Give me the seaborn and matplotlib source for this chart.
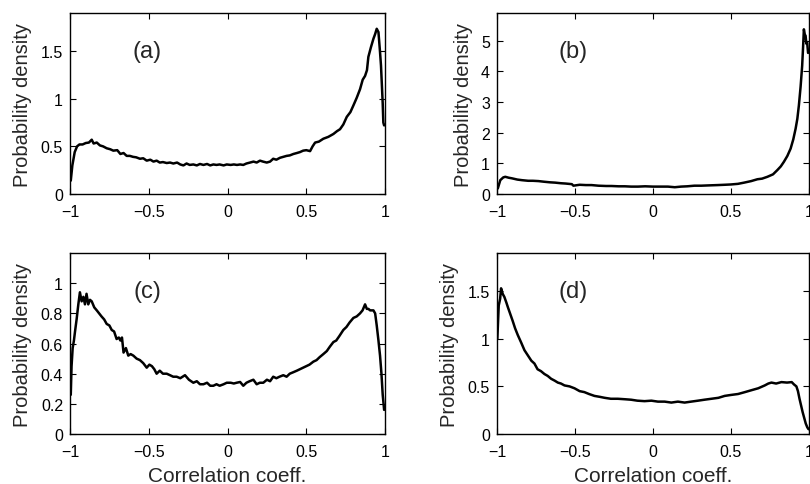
import matplotlib
matplotlib.use("Agg")
import matplotlib.pyplot as plt
import seaborn as sns

# panel (a)
xa = [-0.995, -0.985, -0.97, -0.955, -0.94, -0.92, -0.9, -0.88, -0.862, -0.85,
      -0.83, -0.81, -0.79, -0.767, -0.745, -0.725, -0.70, -0.68, -0.66, -0.64,
      -0.62, -0.60, -0.58, -0.556, -0.535, -0.513, -0.49, -0.47, -0.45, -0.43,
      -0.41, -0.386, -0.365, -0.344, -0.32, -0.30, -0.28, -0.26, -0.24, -0.217,
      -0.195, -0.175, -0.153, -0.13, -0.11, -0.09, -0.07, -0.05, -0.025, -0.005,
      0.02, 0.04, 0.06, 0.08, 0.10, 0.12, 0.143, 0.165, 0.185, 0.206,
      0.225, 0.249, 0.27, 0.29, 0.31, 0.333, 0.354, 0.375, 0.395, 0.418,
      0.44, 0.46, 0.48, 0.50, 0.524, 0.54, 0.556, 0.58, 0.608, 0.64,
      0.672, 0.695, 0.714, 0.735, 0.757, 0.78, 0.799, 0.82, 0.841, 0.858,
      0.873, 0.885, 0.894, 0.91, 0.926, 0.937, 0.947, 0.958, 0.968, 0.974,
      0.979, 0.985, 0.989, 0.994]
ya = [0.14, 0.30, 0.44, 0.50, 0.52, 0.52, 0.535, 0.54, 0.57, 0.53,
      0.54, 0.51, 0.50, 0.48, 0.47, 0.455, 0.46, 0.42, 0.43, 0.40,
      0.40, 0.39, 0.385, 0.37, 0.375, 0.35, 0.36, 0.34, 0.35, 0.33,
      0.335, 0.325, 0.33, 0.32, 0.33, 0.31, 0.30, 0.32, 0.305, 0.31,
      0.30, 0.315, 0.305, 0.315, 0.30, 0.31, 0.305, 0.31, 0.30, 0.31,
      0.305, 0.31, 0.305, 0.31, 0.305, 0.32, 0.33, 0.34, 0.33, 0.35,
      0.34, 0.33, 0.34, 0.37, 0.36, 0.38, 0.39, 0.40, 0.405, 0.42,
      0.43, 0.44, 0.455, 0.46, 0.45, 0.50, 0.54, 0.55, 0.58, 0.60,
      0.63, 0.66, 0.68, 0.73, 0.81, 0.86, 0.93, 1.01, 1.10, 1.20,
      1.24, 1.30, 1.44, 1.54, 1.63, 1.68, 1.735, 1.70, 1.49, 1.35,
      1.17, 0.95, 0.75, 0.72]

# panel (b)
xb = [-0.995, -0.979, -0.96, -0.947, -0.925, -0.904, -0.87, -0.84, -0.80, -0.77,
      -0.734, -0.70, -0.66, -0.628, -0.59, -0.56, -0.52, -0.51, -0.47, -0.43,
      -0.394, -0.35, -0.30, -0.266, -0.22, -0.18, -0.14, -0.096, -0.05, 0.0,
      0.05, 0.096, 0.14, 0.18, 0.22, 0.266, 0.31, 0.36, 0.415, 0.46,
      0.50, 0.545, 0.585, 0.63, 0.67, 0.70, 0.734, 0.77, 0.798, 0.82,
      0.84, 0.862, 0.883, 0.90, 0.915, 0.926, 0.936, 0.947, 0.957, 0.963,
      0.968, 0.974, 0.979, 0.984, 0.989, 0.995]
yb = [0.18, 0.45, 0.54, 0.56, 0.53, 0.51, 0.47, 0.45, 0.43, 0.43,
      0.42, 0.40, 0.38, 0.37, 0.35, 0.34, 0.32, 0.27, 0.30, 0.29,
      0.29, 0.27, 0.26, 0.26, 0.25, 0.25, 0.24, 0.24, 0.25, 0.24,
      0.24, 0.24, 0.22, 0.24, 0.25, 0.27, 0.27, 0.28, 0.29, 0.30,
      0.31, 0.33, 0.37, 0.42, 0.48, 0.50, 0.56, 0.64, 0.78, 0.90,
      1.05, 1.24, 1.48, 1.78, 2.13, 2.45, 2.89, 3.5, 4.18, 4.8,
      5.37, 5.2, 5.16, 4.9, 4.94, 4.6]

# panel (c)
xc = [-0.995, -0.99, -0.983, -0.975, -0.968, -0.958, -0.947, -0.937, -0.926, -0.915,
      -0.905, -0.895, -0.884, -0.873, -0.862, -0.846, -0.83, -0.815, -0.80, -0.783,
      -0.767, -0.75, -0.735, -0.72, -0.704, -0.69, -0.68, -0.67, -0.66, -0.645,
      -0.63, -0.615, -0.598, -0.577, -0.556, -0.535, -0.513, -0.496, -0.48, -0.465,
      -0.45, -0.43, -0.41, -0.386, -0.365, -0.345, -0.323, -0.30, -0.27, -0.245,
      -0.217, -0.195, -0.175, -0.153, -0.13, -0.11, -0.09, -0.07, -0.05, -0.025,
      -0.005, 0.02, 0.04, 0.058, 0.08, 0.10, 0.12, 0.14, 0.164, 0.185,
      0.205, 0.227, 0.25, 0.27, 0.29, 0.31, 0.33, 0.354, 0.375, 0.395,
      0.418, 0.44, 0.46, 0.48, 0.50, 0.52, 0.545, 0.565, 0.585, 0.608,
      0.63, 0.65, 0.672, 0.69, 0.71, 0.735, 0.755, 0.775, 0.799, 0.82,
      0.841, 0.857, 0.873, 0.884, 0.894, 0.905, 0.915, 0.926, 0.937, 0.947,
      0.958, 0.968, 0.977, 0.985, 0.994]
yc = [0.26, 0.45, 0.57, 0.62, 0.68, 0.76, 0.86, 0.94, 0.88, 0.91,
      0.86, 0.93, 0.86, 0.89, 0.88, 0.84, 0.82, 0.80, 0.78, 0.76,
      0.73, 0.72, 0.69, 0.68, 0.63, 0.64, 0.62, 0.64, 0.54, 0.57,
      0.52, 0.53, 0.52, 0.50, 0.49, 0.47, 0.44, 0.46, 0.45, 0.43,
      0.40, 0.42, 0.40, 0.40, 0.39, 0.38, 0.38, 0.37, 0.39, 0.36,
      0.34, 0.35, 0.33, 0.33, 0.34, 0.32, 0.32, 0.33, 0.32, 0.33,
      0.34, 0.34, 0.335, 0.34, 0.345, 0.32, 0.34, 0.35, 0.36, 0.33,
      0.34, 0.34, 0.36, 0.35, 0.38, 0.37, 0.38, 0.39, 0.38, 0.40,
      0.41, 0.42, 0.43, 0.44, 0.45, 0.46, 0.48, 0.49, 0.51, 0.53,
      0.55, 0.58, 0.61, 0.62, 0.65, 0.69, 0.71, 0.74, 0.77, 0.78,
      0.80, 0.82, 0.86, 0.83, 0.83, 0.82, 0.82, 0.82, 0.80, 0.72,
      0.62, 0.52, 0.40, 0.26, 0.16]

# panel (d)
xd = [-0.998, -0.989, -0.98, -0.974, -0.963, -0.953, -0.94, -0.93, -0.915, -0.90,
      -0.884, -0.867, -0.845, -0.824, -0.80, -0.78, -0.76, -0.74, -0.718, -0.696,
      -0.675, -0.653, -0.63, -0.61, -0.59, -0.567, -0.535, -0.503, -0.47, -0.44,
      -0.41, -0.375, -0.34, -0.31, -0.27, -0.225, -0.18, -0.14, -0.10, -0.054,
      -0.01, 0.032, 0.075, 0.118, 0.16, 0.203, 0.245, 0.289, 0.33, 0.375,
      0.42, 0.46, 0.50, 0.546, 0.59, 0.632, 0.675, 0.717, 0.74, 0.76,
      0.79, 0.824, 0.86, 0.89, 0.905, 0.92, 0.93, 0.94, 0.95, 0.96,
      0.97, 0.98, 0.99, 0.998]
yd = [1.00, 1.35, 1.42, 1.53, 1.47, 1.44, 1.38, 1.33, 1.26, 1.19,
      1.11, 1.04, 0.96, 0.88, 0.82, 0.77, 0.74, 0.68, 0.66, 0.63,
      0.61, 0.58, 0.56, 0.54, 0.53, 0.51, 0.50, 0.48, 0.45, 0.44,
      0.42, 0.40, 0.39, 0.38, 0.37, 0.37, 0.365, 0.36, 0.35, 0.345,
      0.35, 0.34, 0.34, 0.33, 0.34, 0.33, 0.34, 0.35, 0.36, 0.37,
      0.38, 0.40, 0.41, 0.42, 0.44, 0.46, 0.48, 0.51, 0.53, 0.54,
      0.53, 0.545, 0.54, 0.545, 0.52, 0.50, 0.45, 0.37, 0.30, 0.23,
      0.17, 0.11, 0.07, 0.05]

x_ticks = [-1, -0.5, 0, 0.5, 1]
x_ticklabels = ["\u22121", "\u22120.5", "0", "0.5", "1"]

panels = [
    # label, x, y, ylim, yticks, yticklabels, axes rect, show xlabel
    ("(a)", xa, ya, 1.9, [0, 0.5, 1, 1.5], ["0", "0.5", "1", "1.5"],
     [0.0864, 0.598, 0.389, 0.373], False),
    ("(b)", xb, yb, 5.9, [0, 1, 2, 3, 4, 5], ["0", "1", "2", "3", "4", "5"],
     [0.6136, 0.598, 0.385, 0.373], False),
    ("(c)", xc, yc, 1.2, [0, 0.2, 0.4, 0.6, 0.8, 1],
     ["0", "0.2", "0.4", "0.6", "0.8", "1"],
     [0.0864, 0.1031, 0.389, 0.373], True),
    ("(d)", xd, yd, 1.9, [0, 0.5, 1, 1.5], ["0", "0.5", "1", "1.5"],
     [0.6136, 0.1031, 0.385, 0.373], True),
]

sns.set_style("ticks")
plt.rcParams["font.family"] = ["Liberation Sans", "DejaVu Sans"]

fig = plt.figure(figsize=(8.1, 4.85), dpi=100)

for label, xs, ys, ytop, yt, ytl, rect, show_xlabel in panels:
    ax = fig.add_axes(rect)
    sns.lineplot(x=xs, y=ys, ax=ax, color="black", linewidth=1.8, sort=False)
    ax.set_xlim(-1, 1)
    ax.set_ylim(0, ytop)
    ax.set_xticks(x_ticks)
    ax.set_xticklabels(x_ticklabels)
    ax.set_yticks(yt)
    ax.set_yticklabels(ytl)
    ax.tick_params(direction="in", top=True, right=True, length=4,
                   width=0.8, labelsize=11.5, colors="black")
    ax.tick_params(axis="x", pad=7)
    ax.tick_params(axis="y", pad=5)
    for sp in ax.spines.values():
        sp.set_visible(True)
        sp.set_linewidth(1.0)
        sp.set_color("black")
    ax.set_ylabel("Probability density", fontsize=14.5, labelpad=6)
    if show_xlabel:
        ax.set_xlabel("Correlation coeff.", fontsize=15, labelpad=5)
    ax.text(0.245, 0.79, label, transform=ax.transAxes, fontsize=17,
            ha="center", va="center")

fig.savefig("out.png", dpi=100)
